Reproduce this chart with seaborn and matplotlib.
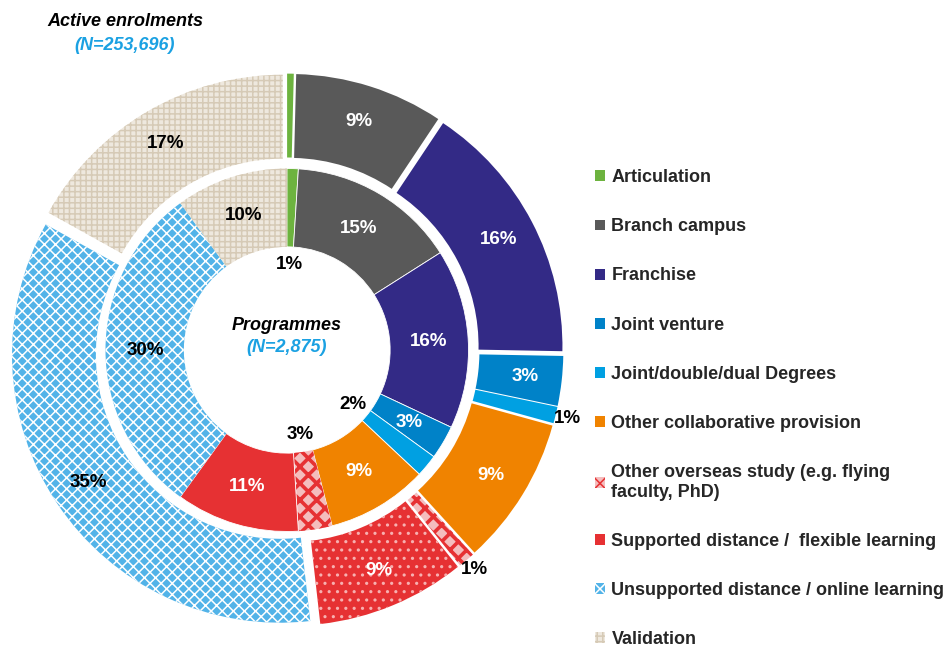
import numpy as np
import seaborn as sns
import matplotlib.pyplot as plt
from matplotlib.patches import Patch

sns.set_theme(style='white')
plt.rcParams['font.family'] = ['Liberation Sans', 'DejaVu Sans']
plt.rcParams['hatch.linewidth'] = 1.1

categories = ['Articulation', 'Branch campus', 'Franchise', 'Joint venture',
              'Joint/double/dual Degrees', 'Other collaborative provision',
              'Other overseas study (e.g. flying\nfaculty, PhD)',
              'Supported distance /  flexible learning',
              'Unsupported distance / online learning', 'Validation']
programmes = [1, 15, 16, 3, 2, 9, 3, 11, 30, 10]
enrolments = [0.4, 9, 16, 3, 1, 9, 1, 9, 35, 17]

colors = ['#6DB33F', '#595959', '#332A86', '#0082C8', '#00A0E2',
          '#F08300', '#E63133', '#E63133', '#52B3E8', '#EEE8DE']
blue = '#1BA1E2'

# hatch styles (hatch, hatch colour) for the patterned categories
hatch_outer = {6: ('xx', '#E63133'), 7: ('..', '#F7B0B0'), 8: ('xxx', 'white'), 9: ('+++', '#D6CAB6')}
hatch_inner = {6: ('xx', '#E63133'), 8: ('xxx', 'white'), 9: ('+++', '#D6CAB6')}
face_override = {6: '#F4BDBD'}
dark_text = {8, 9}
hole_inner = {0, 4, 6}

fig = plt.figure(figsize=(9.46, 6.52), dpi=100)
W, H = 946, 652
cx, cy, scale = 287, 350, 275
half = 1.1 * scale
ax = fig.add_axes([(cx - half) / W, (H - cy - half) / H, 2 * half / W, 2 * half / H])

explode = 0.03
outer, _ = ax.pie(enrolments, radius=0.975, startangle=90, counterclock=False,
                  colors=colors, explode=[explode] * len(enrolments),
                  wedgeprops=dict(width=0.305, linewidth=0))
inner, _ = ax.pie(programmes, radius=0.66, startangle=90, counterclock=False,
                  colors=colors, wedgeprops=dict(width=0.285, linewidth=0.6, edgecolor='white'))


def style(wedges, hatches):
    for i, w in enumerate(wedges):
        if i in face_override:
            w.set_facecolor(face_override[i])
        if i in hatches:
            h, c = hatches[i]
            w.set_hatch(h)
            w.set_edgecolor(c)
            w.set_linewidth(0)
            if i == 6 and hasattr(w, 'set_hatch_linewidth'):
                w.set_hatch_linewidth(2.6)


style(outer, hatch_outer)
style(inner, hatch_inner)


def mids(vals):
    v = np.array(vals, dtype=float)
    f = v / v.sum()
    c = np.cumsum(f) - f / 2
    return np.deg2rad(90 - 360 * c)


for i, (v, a) in enumerate(zip(programmes, mids(programmes))):
    if i in hole_inner:
        r, col = 0.31, 'black'
    else:
        r, col = 0.515, 'black' if i in dark_text else 'white'
    ax.text(r * np.cos(a), r * np.sin(a), f'{v:.0f}%', ha='center', va='center',
            fontsize=13.5, fontweight='bold', color=col)

for i, (v, a) in enumerate(zip(enrolments, mids(enrolments))):
    if v < 0.5:
        continue
    if v < 2:
        r, col = 1.05, 'black'
    else:
        r, col = 0.84 + explode, 'black' if i in dark_text else 'white'
    ax.text(r * np.cos(a), r * np.sin(a), f'{v:.0f}%', ha='center', va='center',
            fontsize=13.5, fontweight='bold', color=col)

ax.text(0, 0.09, 'Programmes', ha='center', va='center', fontsize=13,
        fontweight='bold', fontstyle='italic', color='black')
ax.text(0, 0.01, '(N=2,875)', ha='center', va='center', fontsize=13,
        fontweight='bold', fontstyle='italic', color=blue)
ax.set_xlim(-1.1, 1.1)
ax.set_ylim(-1.1, 1.1)
ax.set_aspect('equal')
ax.axis('off')

fig.text(125 / W, 1 - 21 / H, 'Active enrolments', ha='center', va='center',
         fontsize=13, fontweight='bold', fontstyle='italic', color='black')
fig.text(125 / W, 1 - 45 / H, '(N=253,696)', ha='center', va='center',
         fontsize=13, fontweight='bold', fontstyle='italic', color=blue)

handles = []
for i, c in enumerate(colors):
    fc = face_override.get(i, c)
    if i in hatch_outer and i != 7:
        h, hc = hatch_outer[i]
        handles.append(Patch(facecolor=fc, hatch=h, edgecolor=hc, linewidth=0))
    else:
        handles.append(Patch(facecolor=fc, linewidth=0))
fig.legend(handles, categories, loc='upper left', bbox_to_anchor=(588 / W, 1 - 162 / H),
           frameon=False, prop={'weight': 'bold', 'size': 13}, handlelength=0.55,
           handleheight=0.55, handletextpad=0.35, labelspacing=1.78, borderaxespad=0)

fig.savefig('out.png', dpi=100)
